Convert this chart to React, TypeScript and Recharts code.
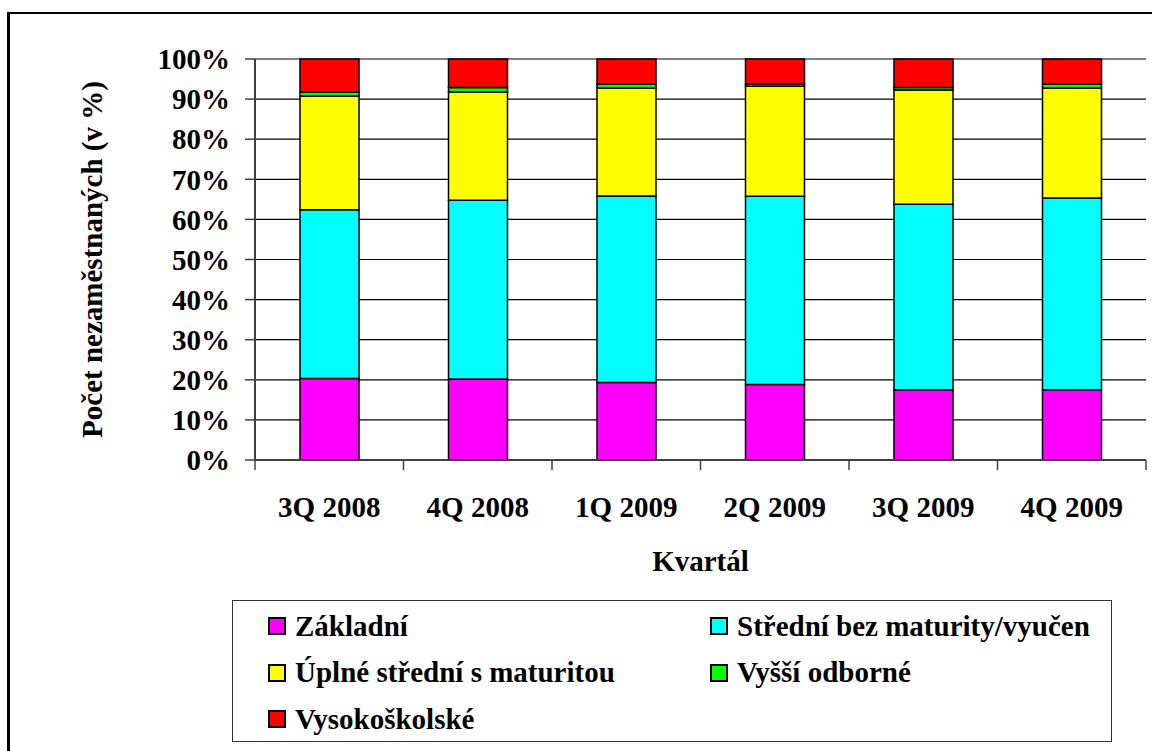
import { BarChart, Bar, XAxis, YAxis, CartesianGrid, Legend } from "recharts";

const quarters = ["3Q 2008", "4Q 2008", "1Q 2009", "2Q 2009", "3Q 2009", "4Q 2009"];
const zakladni = [20.3, 20.2, 19.3, 18.8, 17.5, 17.5];
const stredniBez = [42.1, 44.6, 46.5, 47.0, 46.3, 47.8];
const uplneStredni = [28.4, 27.0, 26.9, 27.4, 28.45, 27.4];
const vyssiOdborne = [1.0, 1.1, 1.0, 0.55, 0.65, 1.0];
const vysokoskolske = [8.2, 7.1, 6.25, 6.25, 7.1, 6.25];
const yTicks = [0, 0.1, 0.2, 0.3, 0.4, 0.5, 0.6, 0.7, 0.8, 0.9, 1];

const series = [
  { key: "zakladni", name: "Základní", color: "#FF00FF" },
  { key: "stredniBez", name: "Střední bez maturity/vyučen", color: "#00FFFF" },
  { key: "uplneStredni", name: "Úplné střední s maturitou", color: "#FFFF00" },
  { key: "vyssiOdborne", name: "Vyšší odborné", color: "#00FF00" },
  { key: "vysokoskolske", name: "Vysokoškolské", color: "#FF0000" },
];

const data = quarters.map((q, i) => ({
  q,
  zakladni: zakladni[i],
  stredniBez: stredniBez[i],
  uplneStredni: uplneStredni[i],
  vyssiOdborne: vyssiOdborne[i],
  vysokoskolske: vysokoskolske[i],
}));

const FONT = "Liberation Serif";
const W = 1152;
const H = 751;
const LEFT = 255;
const RIGHT = 6;
const HALF_BAND = (W - LEFT - RIGHT) / quarters.length / 2;
const textStyle = { fontSize: 29, fontWeight: "bold", fill: "#000", fontFamily: FONT };

// excel-style category axis: tick marks sit between categories
const CategoryTick = (props: any) => {
  const { x, y, payload, index } = props;
  return (
    <g>
      <line x1={x - HALF_BAND} y1={y - 10} x2={x - HALF_BAND} y2={y} stroke="#404040" strokeWidth={1.5} />
      {index === quarters.length - 1 && (
        <line x1={x + HALF_BAND} y1={y - 10} x2={x + HALF_BAND} y2={y} stroke="#404040" strokeWidth={1.5} />
      )}
      <text x={x} y={y + 47} textAnchor="middle" style={textStyle}>
        {payload.value}
      </text>
    </g>
  );
};

const LegendBox = () => {
  const cols = [35, 477];
  return (
    <div style={{ position: "relative", width: "100%", height: "100%", fontFamily: FONT }}>
      {series.map((s, i) => (
        <div
          key={s.key}
          style={{
            position: "absolute",
            left: cols[i % 2],
            top: 25 + Math.floor(i / 2) * 46.5 - 18,
            height: 36,
            display: "flex",
            alignItems: "center",
            whiteSpace: "nowrap",
          }}
        >
          <span
            style={{
              display: "inline-block",
              width: 14,
              height: 14,
              background: s.color,
              border: "2px solid #000",
              marginRight: 9,
            }}
          />
          <span style={{ fontSize: 29, fontWeight: "bold", color: "#000", fontFamily: FONT }}>{s.name}</span>
        </div>
      ))}
    </div>
  );
};

export default function App() {
  return (
    <div
      style={{
        position: "fixed",
        left: 0,
        top: 0,
        width: W,
        height: H,
        overflow: "hidden",
        background: "#fff",
        fontFamily: FONT,
      }}
    >
      <div
        style={{
          position: "absolute",
          left: 7,
          top: 12,
          width: 1300,
          height: 900,
          borderLeft: "3px solid #000",
          borderTop: "2px solid #000",
        }}
      />
      <div style={{ position: "absolute", left: 0, top: 0 }}>
        <BarChart
          width={W}
          height={H}
          data={data}
          stackOffset="expand"
          barSize={59}
          margin={{ top: 59, right: RIGHT, left: 0, bottom: 0 }}
        >
          <CartesianGrid vertical={false} stroke="#000" strokeWidth={1.2} />
          <XAxis
            dataKey="q"
            height={H - 460}
            tickLine={false}
            tickSize={10}
            tickMargin={0}
            interval={0}
            axisLine={{ stroke: "#404040", strokeWidth: 2 }}
            tick={<CategoryTick />}
            label={{ value: "Kvartál", position: "insideTop", offset: 90, style: textStyle }}
          />
          <XAxis
            xAxisId="top"
            dataKey="q"
            orientation="top"
            height={0}
            tick={false}
            tickLine={false}
            axisLine={{ stroke: "#808080", strokeWidth: 2 }}
          />
          <YAxis
            width={LEFT}
            domain={[0, 1]}
            ticks={yTicks}
            interval={0}
            tickSize={10}
            tickMargin={15}
            tickLine={{ stroke: "#404040", strokeWidth: 1.5 }}
            axisLine={{ stroke: "#404040", strokeWidth: 2 }}
            tickFormatter={(v: number) => `${Math.round(v * 100)}%`}
            tick={{ ...textStyle, style: textStyle }}
            label={{
              value: "Počet nezaměstnaných (v %)",
              angle: -90,
              position: "insideLeft",
              offset: 92,
              style: { ...textStyle, textAnchor: "middle" },
            }}
          />
          <YAxis
            yAxisId="right"
            orientation="right"
            width={0}
            tick={false}
            tickLine={false}
            axisLine={{ stroke: "#808080", strokeWidth: 2 }}
          />
          <Legend
            layout="vertical"
            align="center"
            verticalAlign="middle"
            content={<LegendBox />}
            wrapperStyle={{
              left: 232,
              top: 600,
              width: 880,
              height: 142,
              border: "1px solid #333",
              boxSizing: "border-box",
              background: "#fff",
            }}
          />
          {series.map((s) => (
            <Bar
              key={s.key}
              dataKey={s.key}
              name={s.name}
              stackId="a"
              fill={s.color}
              stroke="#000"
              strokeWidth={1.5}
              isAnimationActive={false}
            />
          ))}
        </BarChart>
      </div>
    </div>
  );
}
